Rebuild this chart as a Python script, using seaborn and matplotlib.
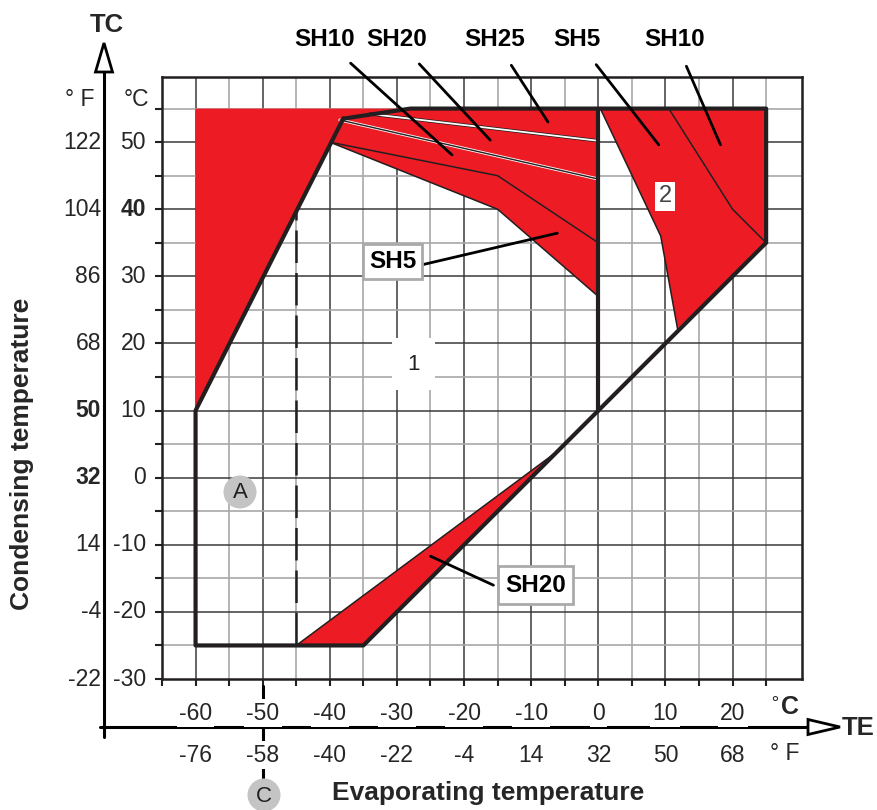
import matplotlib
matplotlib.use("Agg")
import matplotlib.pyplot as plt
import matplotlib.transforms as mtransforms
from matplotlib.patches import Circle, Polygon
import seaborn as sns

# ---------------- data ----------------
# operating envelope outline (TE, TC in deg C)
envelope_te = [-38, -60, -60, -35, 0, 25, 25, -28, -38]
envelope_tc = [53.5, 10, -25, -25, 10, 35, 55, 55, 53.5]
divider_te = [0, 0]
divider_tc = [10, 55]
dashed_te = [-45, -45]
dashed_tc = [-25, 40]

# red superheat zones
zone_left_te = [-60, -60, 0, 0, -15, -40]
zone_left_tc = [10, 55, 55, 27, 40, 50]
zone_right_te = [0.3, 25, 25, 11.8, 9.3]
zone_right_tc = [55, 55, 35, 22.2, 36]
zone_bottom_te = [-45, -35, -6]
zone_bottom_tc = [-25, -25, 4]

# superheat boundary lines
sh5_low_te = [-40, -15, 0]
sh5_low_tc = [50, 40, 27]
sh5_up_te = [-40, -15, 0]
sh5_up_tc = [50, 45, 35]
sh10_up_te = [-38.5, 0]
sh10_up_tc = [53.3, 44.5]
sh20_up_te = [-34, 0]
sh20_up_tc = [54.2, 50.2]
right_edge_te = [0.3, 9.3, 11.8]
right_edge_tc = [55, 36, 22.2]
right_inner_te = [10.5, 20, 25]
right_inner_tc = [55, 40, 35]
bottom_edge_te = [-45, -6]
bottom_edge_tc = [-25, 4]

# axis tick labels
te_c_ticks = [-60, -50, -40, -30, -20, -10, 0, 10, 20]
te_f_labels = ["-76", "-58", "-40", "-22", "-4", "14", "32", "50", "68"]
tc_c_ticks = [50, 40, 30, 20, 10, 0, -10, -20, -30]
tc_f_labels = ["122", "104", "86", "68", "50", "32", "14", "-4", "-22"]
tc_c_bold = [40]
tc_f_bold = ["50", "32"]

# callouts
top_labels = ["SH10", "SH20", "SH25", "SH5", "SH10"]
top_label_te = [-21.8, -16.1, -7.5, 9.0, 18.2]
top_label_tc = [48.1, 50.3, 53.0, 49.6, 49.6]

# ---------------- style ----------------
sns.set_style("white")
plt.rcParams['font.family'] = ['Liberation Sans', 'DejaVu Sans']

RED = "#ED1C24"
DARK = "#231F20"
W, H = 878, 810
fig = plt.figure(figsize=(W / 100, H / 100), dpi=100)

x0, x1 = 162, 801.7
y0, y1 = 76.7, 679
ax = fig.add_axes([x0 / W, 1 - y1 / H, (x1 - x0) / W, (y1 - y0) / H])
ax.set_xlim(-65, 30.3)
ax.set_ylim(-30, 59.75)

# grid
for v in range(-60, 30, 5):
    major = v % 10 == 0
    ax.axvline(v, color="#3a3a3a" if major else "#a8a8a8", lw=1.1 if major else 1.2, zorder=1)
for v in range(-25, 60, 5):
    major = v % 10 == 0
    ax.axhline(v, color="#3a3a3a" if major else "#a8a8a8", lw=1.1 if major else 1.2, zorder=1)

for s in ax.spines.values():
    s.set_color(DARK)
    s.set_linewidth(1.8)
ax.set_xticks(range(-65, 26, 5))
ax.set_yticks(range(-30, 56, 5))
ax.tick_params(axis="both", direction="out", length=5, width=1.5, color=DARK,
               labelbottom=False, labelleft=False, bottom=True, left=True)
ax.set_xlabel("")
ax.set_ylabel("")

# red zones
for te, tc in [(zone_left_te, zone_left_tc), (zone_right_te, zone_right_tc),
               (zone_bottom_te, zone_bottom_tc)]:
    ax.fill(te, tc, color=RED, lw=0, zorder=2)

# thin boundary lines
for te, tc in [(sh5_low_te, sh5_low_tc), (sh5_up_te, sh5_up_tc), (right_edge_te, right_edge_tc),
               (right_inner_te, right_inner_tc), (bottom_edge_te, bottom_edge_tc)]:
    sns.lineplot(x=te, y=tc, sort=False, estimator=None, color=DARK, lw=1.1, ax=ax, zorder=3)
sns.lineplot(x=sh10_up_te, y=sh10_up_tc, sort=False, estimator=None, color="white", lw=2.2, ax=ax, zorder=3)
sns.lineplot(x=sh10_up_te, y=sh10_up_tc, sort=False, estimator=None, color=DARK, lw=1.0, ax=ax, zorder=3)
sns.lineplot(x=sh20_up_te, y=sh20_up_tc, sort=False, estimator=None, color=DARK, lw=2.4, ax=ax, zorder=3)
sns.lineplot(x=sh20_up_te, y=sh20_up_tc, sort=False, estimator=None, color="white", lw=1.3, ax=ax, zorder=3)

# envelope
sns.lineplot(x=envelope_te, y=envelope_tc, sort=False, estimator=None, color=DARK, lw=3.0, ax=ax, zorder=4)
sns.lineplot(x=divider_te, y=divider_tc, sort=False, estimator=None, color=DARK, lw=3.0, ax=ax, zorder=4)
sns.lineplot(x=dashed_te, y=dashed_tc, sort=False, estimator=None, color=DARK, lw=1.8,
             linestyle=(0, (13, 4)), ax=ax, zorder=4)

# in-plot labels
def px2d(px, py):
    return ((px - 598) / 6.72, 50 + (142 - py) / 6.71)

bold = dict(fontsize=17.5, fontweight="bold", color="black")
box = dict(boxstyle="square,pad=0.25", fc="white", ec="#aaaaaa", lw=2)

p = px2d(392, 261)
ax.text(*p, "SH5", ha="center", va="center", bbox=box, zorder=6, **bold)
a, b = px2d(420, 265), px2d(557, 233)
ax.plot([a[0], b[0]], [a[1], b[1]], color="black", lw=2, zorder=5)

p = px2d(535, 585)
ax.text(*p, "SH20", ha="center", va="center", bbox=dict(boxstyle="square,pad=0.3", fc="white", ec="#aaaaaa", lw=2),
        zorder=6, **bold)
a, b = px2d(493, 585), px2d(430, 556)
ax.plot([a[0], b[0]], [a[1], b[1]], color="black", lw=2, zorder=5)

p = px2d(413, 364)
ax.text(*p, "1", ha="center", va="center", fontsize=16, color=DARK,
        bbox=dict(boxstyle="square,pad=0.7", fc="white", ec="none"), zorder=6)
p = px2d(665, 196)
ax.text(*p, "2", ha="center", va="center", fontsize=17, color="#444444",
        bbox=dict(boxstyle="square,pad=0.15", fc="white", ec="none"), zorder=6)

# overlay in pixel coordinates
ov = fig.add_axes([0, 0, 1, 1])
ov.set_xlim(0, W)
ov.set_ylim(H, 0)
ov.axis("off")
ov.patch.set_alpha(0)

# top callouts with leaders
top_px = [325, 397, 495, 577, 675]
for lab, te, tc, px in zip(top_labels, top_label_te, top_label_tc, top_px):
    ax.annotate(lab, xy=(te, tc), xycoords="data", xytext=(px, 40), textcoords=ov.transData,
                ha="center", va="center", annotation_clip=False, zorder=7,
                arrowprops=dict(arrowstyle="-", color="black", lw=2, shrinkA=9, shrinkB=0),
                **bold)

# axes arrows
ov.plot([104, 104], [737, 72], color="black", lw=2.2, zorder=2)
ov.add_patch(Polygon([(95.5, 72), (112.5, 72), (104, 43)], closed=True, fc="white", ec="black", lw=2, zorder=3))
ov.plot([100, 808], [727, 727], color="black", lw=2.2, zorder=2)
ov.add_patch(Polygon([(808, 719.5), (808, 734.5), (840, 727)], closed=True, fc="white", ec="black", lw=2, zorder=3))
ov.text(107, 25, "TC", ha="center", va="center", fontsize=18.5, fontweight="bold")
ov.text(842, 728, "TE", ha="left", va="center", fontsize=18.5, fontweight="bold")

# y tick labels
ytr = mtransforms.blended_transform_factory(ov.transData, ax.transData)
for c, f in zip(tc_c_ticks, tc_f_labels):
    ov.text(146, c, str(c), transform=ytr, ha="right", va="center", fontsize=16.5,
            fontweight="bold" if c in tc_c_bold else "normal")
    ov.text(101, c, f, transform=ytr, ha="right", va="center", fontsize=16.5,
            fontweight="bold" if f in tc_f_bold else "normal")
ov.text(80, 100, "° F", ha="center", va="center", fontsize=16.5)
ov.text(136, 100, "°C", ha="center", va="center", fontsize=16.5)

# x tick labels
xtr = mtransforms.blended_transform_factory(ax.transData, ov.transData)
ov.plot([-50, -50], [686, 780], transform=xtr, color="black", lw=2.2, zorder=1)
for c, f in zip(te_c_ticks, te_f_labels):
    ov.text(c, 713, str(c), transform=xtr, ha="center", va="center", fontsize=16.5, zorder=3,
            bbox=dict(boxstyle="square,pad=0.1", fc="white", ec="none"))
    ov.text(c, 755, f, transform=xtr, ha="center", va="center", fontsize=16.5, zorder=3,
            bbox=dict(boxstyle="square,pad=0.1", fc="white", ec="none"))
ov.text(785, 708, r"$^{\circ}$C", ha="center", va="center", fontsize=18, fontweight="bold")
ov.text(785, 753, "° F", ha="center", va="center", fontsize=16.5)

# titles
ov.text(22, 454, "Condensing temperature", rotation=90, ha="center", va="center",
        fontsize=19, fontweight="bold")
ov.text(488, 793, "Evaporating temperature", ha="center", va="center",
        fontsize=19, fontweight="bold")

# gray markers
for (cx, cy), lab in [((240, 492), "A"), ((264, 795), "C")]:
    ov.add_patch(Circle((cx, cy), 16.5, fc="#c4c4c4", ec="none", zorder=4))
    ov.text(cx, cy + 1, lab, ha="center", va="center", fontsize=16, color=DARK, zorder=5)

fig.savefig("out.png", dpi=100)
